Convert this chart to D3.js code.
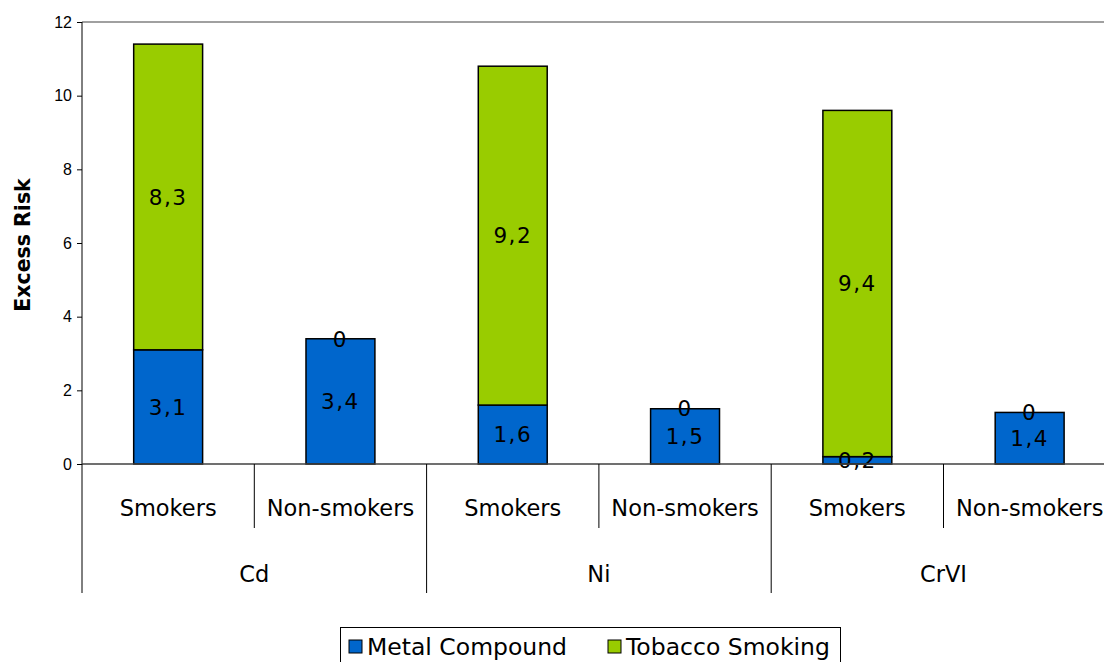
<!DOCTYPE html>
<html>
<head>
<meta charset="utf-8">
<script src="https://cdn.jsdelivr.net/npm/d3@7"></script>
<style>
  html, body { margin: 0; padding: 0; background: #fff; }
  svg { display: block; }
</style>
</head>
<body>
<svg id="chart" width="1104" height="662"></svg>
<script>
// ---- data ----
const groups = ["Cd", "Ni", "CrVI"];
const subcats = ["Smokers", "Non-smokers"];
const metal = [3.1, 3.4, 1.6, 1.5, 0.2, 1.4];
const tobacco = [8.3, 0, 9.2, 0, 9.4, 0];
const seriesNames = ["Metal Compound", "Tobacco Smoking"];
const seriesColors = ["#0066CC", "#99CC00"];
const yTicks = [0, 2, 4, 6, 8, 10, 12];
const yTitle = "Excess Risk";

// build rows
const rows = [];
groups.forEach((g, gi) => subcats.forEach((s, si) => {
  const i = gi * subcats.length + si;
  rows.push({ key: g + "|" + s, group: g, sub: s, metal: metal[i], tobacco: tobacco[i] });
}));

const svg = d3.select("#chart");
const font = "'DejaVu Sans', Verdana, sans-serif";

const x0 = 82, slotW = 172.3;
const x = d3.scaleBand().domain(rows.map(d => d.key))
  .range([x0, x0 + slotW * rows.length]).paddingInner(0).paddingOuter(0);
const y = d3.scaleLinear().domain([0, 12]).range([464, 22]);

const locale = d3.formatLocale({ decimal: ",", thousands: ".", grouping: [3], currency: ["", ""] });
const fmt = v => (v === 0 ? "0" : locale.format(".1f")(v));

// top border line
svg.append("line")
  .attr("x1", x0).attr("x2", x.range()[1])
  .attr("y1", y(12)).attr("y2", y(12))
  .attr("stroke", "#808080").attr("stroke-width", 1.5);

// y axis
const yAxis = d3.axisLeft(y).tickValues(yTicks).tickSize(5).tickPadding(5).tickFormat(d3.format("d"));
const gy = svg.append("g").attr("transform", `translate(${x0},0)`).call(yAxis);
gy.select(".domain").remove();
gy.selectAll(".tick line").attr("stroke", "#000");
gy.selectAll(".tick text").attr("font-family", "'Liberation Sans', Arial, sans-serif")
  .attr("font-size", 16).attr("fill", "#000");
svg.append("line").attr("x1", x0).attr("x2", x0).attr("y1", y(12)).attr("y2", y(0))
  .attr("stroke", "#000").attr("stroke-width", 1);

// y title
svg.append("text")
  .attr("transform", `translate(30,${(y(0) + y(12)) / 2 + 2}) rotate(-90)`)
  .attr("text-anchor", "middle")
  .attr("font-family", font).attr("font-weight", "bold").attr("font-size", 20.5)
  .attr("fill", "#000").text(yTitle);

// stacked bars
const stack = d3.stack().keys(["metal", "tobacco"]);
const series = stack(rows);
const barW = slotW * 0.4;

const sg = svg.selectAll("g.series").data(series).join("g").attr("class", "series")
  .attr("fill", (d, i) => seriesColors[i]);
sg.selectAll("rect").data(d => d.filter(p => p[1] - p[0] > 0)).join("rect")
  .attr("x", d => x(d.data.key) + (x.bandwidth() - barW) / 2)
  .attr("width", barW)
  .attr("y", d => y(d[1]))
  .attr("height", d => y(d[0]) - y(d[1]))
  .attr("stroke", "#000").attr("stroke-width", 1.5);

// value labels
series.forEach((s, si) => {
  svg.append("g").selectAll("text").data(s).join("text")
    .attr("x", d => x(d.data.key) + x.bandwidth() / 2)
    .attr("y", d => (y(d[0]) + y(d[1])) / 2)
    .attr("dy", "0.36em")
    .attr("text-anchor", "middle")
    .attr("font-family", font).attr("font-size", 21.5)
    .attr("letter-spacing", 1.5)
    .attr("fill", "#000")
    .text(d => fmt(d.data[s.key]));
});

// x axis baseline
svg.append("line").attr("x1", x0).attr("x2", x.range()[1])
  .attr("y1", y(0)).attr("y2", y(0)).attr("stroke", "#404040").attr("stroke-width", 1.5);

// sub-category dividers & labels
rows.forEach((d, i) => {
  const left = x(d.key);
  const isGroupStart = i % subcats.length === 0;
  svg.append("line").attr("x1", left).attr("x2", left)
    .attr("y1", y(0)).attr("y2", isGroupStart ? 593 : 528)
    .attr("stroke", "#000").attr("stroke-width", 1);
  svg.append("text")
    .attr("x", left + x.bandwidth() / 2).attr("y", 516)
    .attr("text-anchor", "middle")
    .attr("font-family", font).attr("font-size", 22.5).attr("fill", "#000")
    .text(d.sub);
});
groups.forEach((g, gi) => {
  const keys = rows.filter(r => r.group === g).map(r => r.key);
  const left = x(keys[0]), right = x(keys[keys.length - 1]) + x.bandwidth();
  svg.append("text")
    .attr("x", (left + right) / 2).attr("y", 582)
    .attr("text-anchor", "middle")
    .attr("font-family", font).attr("font-size", 22.5).attr("fill", "#000")
    .text(g);
});
// last right divider (off canvas mostly)
svg.append("line").attr("x1", x.range()[1]).attr("x2", x.range()[1])
  .attr("y1", y(0)).attr("y2", 593).attr("stroke", "#000");

// legend
const lg = svg.append("g");
lg.append("rect").attr("x", 340.5).attr("y", 627.5).attr("width", 500).attr("height", 60)
  .attr("fill", "#fff").attr("stroke", "#000").attr("stroke-width", 1);
const legendX = [349, 608];
seriesNames.forEach((n, i) => {
  lg.append("rect").attr("x", legendX[i]).attr("y", 640).attr("width", 13).attr("height", 13)
    .attr("fill", seriesColors[i]).attr("stroke", "#000").attr("stroke-width", 1);
  lg.append("text").attr("x", legendX[i] + 18).attr("y", 655)
    .attr("font-family", font).attr("font-size", 23.5).attr("fill", "#000").text(n);
});
</script>
</body>
</html>
